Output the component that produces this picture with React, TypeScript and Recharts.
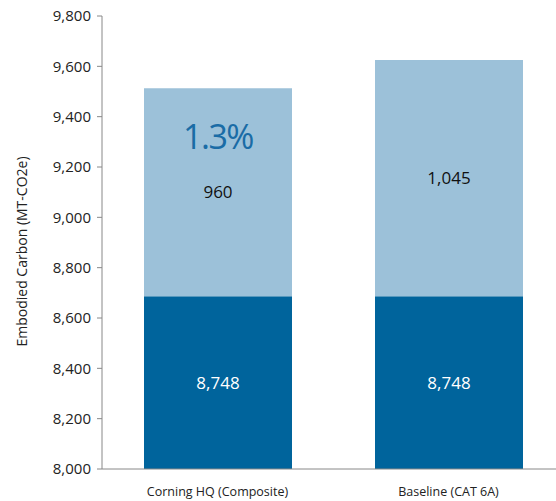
import { BarChart, Bar, XAxis, YAxis, LabelList } from "recharts"

const categories = ["Corning HQ (Composite)", "Baseline (CAT 6A)"]
// bar heights as drawn in the chart
const baseValues = [8686, 8686]
const addedValues = [827, 939]
// printed labels
const baseLabels = ["8,748", "8,748"]
const addedLabels = ["960", "1,045"]
const pctLabels = ["1.3%", ""]
const yTicks = [8000, 8200, 8400, 8600, 8800, 9000, 9200, 9400, 9600, 9800]
const yTitle = "Embodied Carbon (MT-CO2e)"

const data = categories.map((name, i) => ({
  name,
  base: baseValues[i],
  added: addedValues[i],
  baseLabel: baseLabels[i],
  addedLabel: addedLabels[i],
  pct: pctLabels[i],
}))

const WIDTH = 564
const HEIGHT = 501
const X_AXIS_HEIGHT = 32
const PLOT_BOTTOM = HEIGHT - X_AXIS_HEIGHT
const FONT = "'Open Sans', 'Noto Sans', sans-serif"

const BaseLabel = (props: any) => {
  const { x, y, width, height, value } = props
  const bottom = Math.min(y + height, PLOT_BOTTOM)
  return (
    <text
      x={x + width / 2}
      y={(y + bottom) / 2}
      textAnchor="middle"
      dominantBaseline="central"
      fill="#fff"
      fontSize={17}
      fontFamily={FONT}
    >
      {value}
    </text>
  )
}

const YTitle = (props: any) => {
  const vb = props.viewBox || {}
  const cx = 21
  const cy = vb.y + vb.height / 2 + 9
  return (
    <text
      x={cx}
      y={cy}
      transform={`rotate(-90, ${cx}, ${cy})`}
      textAnchor="middle"
      dominantBaseline="central"
      fill="#222"
      fontSize={14}
      fontFamily={FONT}
    >
      {yTitle}
    </text>
  )
}

export default function App() {
  return (
    <div
      style={{
        position: "absolute",
        left: 0,
        top: 0,
        width: 556,
        height: 501,
        overflow: "hidden",
        background: "#fff",
      }}
    >
      <BarChart
        width={WIDTH}
        height={HEIGHT}
        data={data}
        margin={{ top: 16, right: 0, left: 0, bottom: 0 }}
        barSize={148}
        style={{ fontFamily: FONT }}
      >
        <XAxis
          xAxisId="div"
          type="number"
          domain={[0, 2]}
          ticks={[1]}
          height={0}
          tick={false}
          axisLine={false}
          tickLine={{ stroke: "#888" }}
          tickSize={6}
        />
        <XAxis
          dataKey="name"
          height={X_AXIS_HEIGHT}
          tickLine={false}
          tickSize={0}
          tickMargin={18}
          axisLine={{ stroke: "#888" }}
          tick={{ fill: "#222", fontSize: 12.5 }}
        />
        <YAxis
          width={102}
          domain={[8000, 9800]}
          ticks={yTicks}
          allowDataOverflow
          tickFormatter={(v: number) => v.toLocaleString("en-US")}
          axisLine={{ stroke: "#888" }}
          tickLine={{ stroke: "#888" }}
          tickSize={5}
          tickMargin={6}
          tick={{ fill: "#222", fontSize: 15 }}
          label={<YTitle />}
        />
        <Bar dataKey="base" stackId="a" fill="#00649c" isAnimationActive={false}>
          <LabelList dataKey="baseLabel" content={BaseLabel} />
        </Bar>
        <Bar dataKey="added" stackId="a" fill="#9cc1d9" isAnimationActive={false}>
          <LabelList
            dataKey="addedLabel"
            position="center"
            fill="#111"
            fontSize={17}
          />
          <LabelList
            dataKey="pct"
            position="insideTop"
            offset={37}
            fill="#1a6ca6"
            fontSize={34}
            style={{ letterSpacing: "-1.5px" }}
          />
        </Bar>
      </BarChart>
    </div>
  )
}
